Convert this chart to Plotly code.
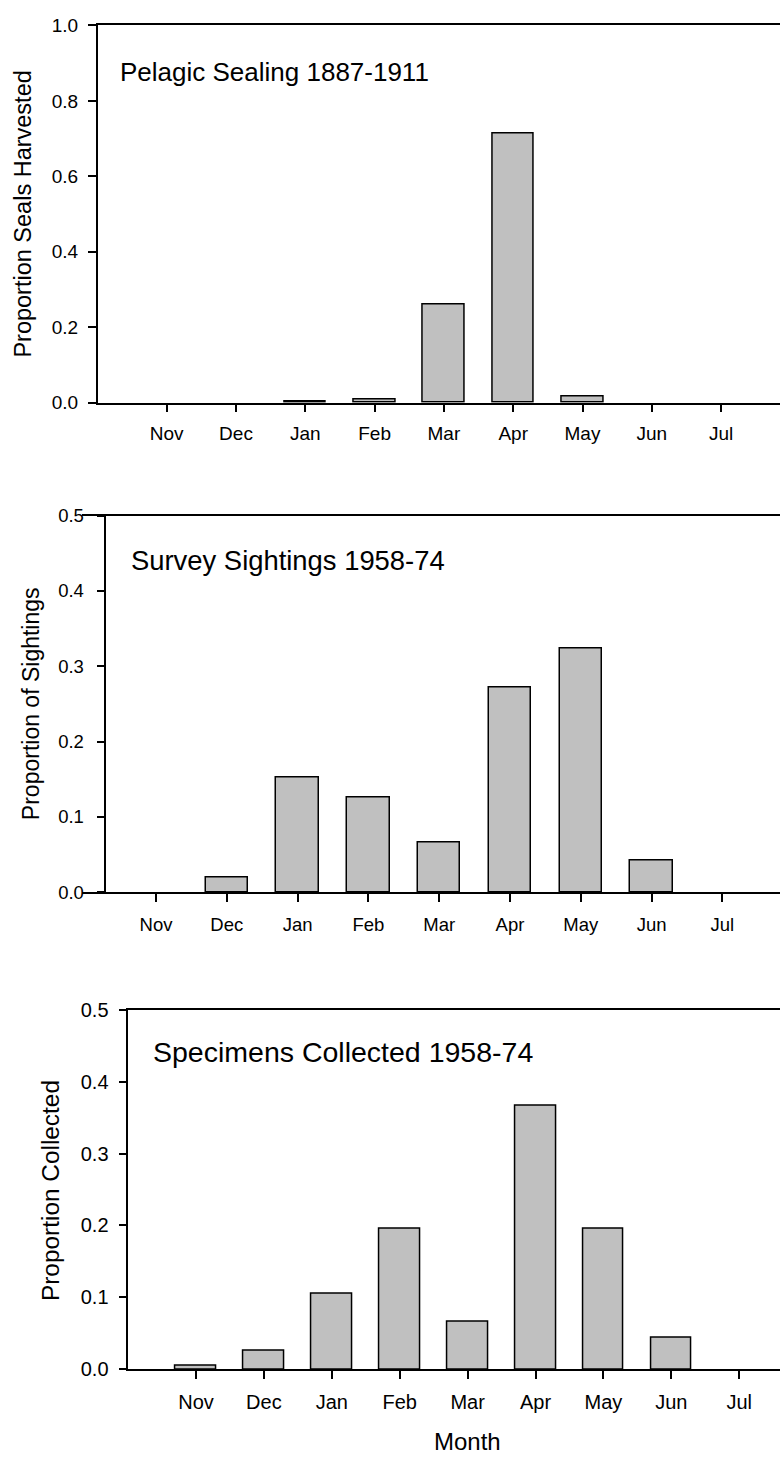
import plotly.graph_objects as go

months = ["Nov", "Dec", "Jan", "Feb", "Mar", "Apr", "May", "Jun", "Jul"]
pelagic = [0.0, 0.0, 0.004, 0.008, 0.26, 0.715, 0.017, 0.0, 0.0]
sightings = [0.0, 0.019, 0.152, 0.125, 0.066, 0.272, 0.324, 0.042, 0.0]
specimens = [0.0045, 0.0256, 0.1055, 0.195, 0.066, 0.366, 0.196, 0.044, 0.0]

titles = ["Pelagic Sealing 1887-1911", "Survey Sightings 1958-74", "Specimens Collected 1958-74"]
ytitles = ["Proportion Seals Harvested", "Proportion of Sightings", "Proportion Collected"]
x_title = "Month"

W, H = 780, 1465
FONT = "Arial, 'Liberation Sans', sans-serif"

def px(x):
    return x / W

def py(y):
    return 1 - y / H

xidx = list(range(len(months)))

fig = go.Figure()
series = [pelagic, sightings, specimens]
for i, vals in enumerate(series):
    sfx = "" if i == 0 else str(i + 1)
    fig.add_trace(go.Bar(
        x=xidx, y=vals, width=0.6,
        marker=dict(color="#c0c0c0",
                    line=dict(color="black", width=[1.5 if v > 0 else 0 for v in vals])),
        xaxis="x" + sfx, yaxis="y" + sfx, showlegend=False,
    ))

# panel geometry (pixels) and per-panel text styling
panels = [
    dict(xdom=(97.7, 780), yaxpos=97.7, top=14.7, bot=397.7, nov=166.7, step=69.3, yr=[0, 1.0], dt=0.2,
         tfs=26, yfs=23.5, tkfs=19, xso=5, yso=6),
    dict(xdom=(82, 780), yaxpos=105.3, top=512.3, bot=894.7, nov=156, step=70.8, yr=[0, 0.5], dt=0.1,
         tfs=27.4, yfs=23, tkfs=18.5, xso=7, yso=9),
    dict(xdom=(128.3, 780), yaxpos=128.3, top=1014, bot=1379, nov=196, step=67.9, yr=[0, 0.5], dt=0.1,
         tfs=28.5, yfs=24.4, tkfs=20, xso=6, yso=6),
]

layout = dict(
    width=W, height=H,
    margin=dict(l=0, r=0, t=0, b=0),
    paper_bgcolor="white", plot_bgcolor="white",
    font=dict(family=FONT, color="black", size=20),
    bargap=0,
)

for i, p in enumerate(panels):
    sfx = "" if i == 0 else str(i + 1)
    x0, x1 = p["xdom"]
    rstart = -(p["nov"] - x0) / p["step"]
    rend = (x1 - p["nov"]) / p["step"]
    layout["xaxis" + sfx] = dict(
        domain=[px(x0), 1.0], range=[rstart, rend],
        anchor="y" + sfx,
        tickmode="array", tickvals=xidx, ticktext=months,
        ticks="outside", ticklen=8, tickwidth=1.5, tickcolor="black",
        showline=True, linecolor="black", linewidth=1.5, mirror=True,
        showgrid=False, zeroline=False, fixedrange=True,
        tickfont=dict(size=p["tkfs"], family=FONT), ticklabelstandoff=p["xso"],
    )
    ydict = dict(
        domain=[py(p["bot"]), py(p["top"])], range=p["yr"],
        tickmode="linear", tick0=0, dtick=p["dt"], tickformat=".1f",
        ticks="outside", ticklen=8, tickwidth=1.5, tickcolor="black",
        showline=True, linecolor="black", linewidth=1.5,
        showgrid=False, zeroline=False, fixedrange=True,
        tickfont=dict(size=p["tkfs"], family=FONT), ticklabelstandoff=p["yso"],
    )
    if abs(p["yaxpos"] - x0) > 0.5:
        ydict["anchor"] = "free"
        ydict["position"] = px(p["yaxpos"])
    else:
        ydict["anchor"] = "x" + sfx
    layout["yaxis" + sfx] = ydict

fig.update_layout(**layout)

title_pos = [(118, 61.7), (129, 558), (150.7, 1057)]
for t, (x, y), p in zip(titles, title_pos, panels):
    fig.add_annotation(text=t, x=px(x), y=py(y), xref="paper", yref="paper",
                       xanchor="left", yanchor="middle", showarrow=False,
                       font=dict(size=p["tfs"], family=FONT))

ytitle_pos = [(23, 206.7), (31.7, 703), (50, 1197)]
for t, (x, y), p in zip(ytitles, ytitle_pos, panels):
    fig.add_annotation(text=t, x=px(x), y=py(y), xref="paper", yref="paper",
                       xanchor="center", yanchor="middle", textangle=-90, showarrow=False,
                       font=dict(size=p["yfs"], family=FONT))

fig.add_annotation(text=x_title, x=px(467.5), y=py(1452), xref="paper", yref="paper",
                   xanchor="center", yanchor="middle", showarrow=False,
                   font=dict(size=24, family=FONT))

fig.write_html("out.html")
